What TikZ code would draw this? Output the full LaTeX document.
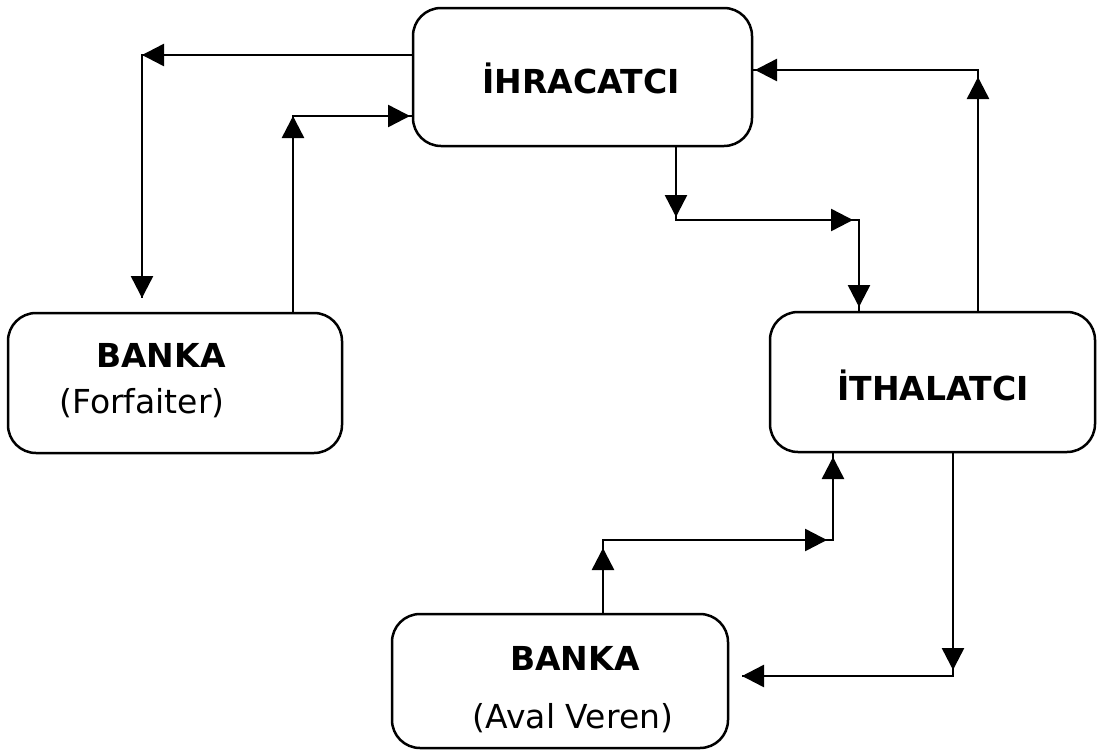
\documentclass[tikz,border=0pt]{standalone}
\usepackage{fontspec}
\setmainfont{DejaVu Sans}
\usetikzlibrary{arrows.meta}
\begin{document}
\begin{tikzpicture}[x=1pt,y=-1pt,
  party/.style={draw=black, line width=2.5pt, rounded corners=28pt, inner sep=0pt, outer sep=0pt},
  title/.style={anchor=base, inner sep=0pt, font=\fontsize{33}{36}\selectfont\bfseries},
  subtitle/.style={anchor=base, inner sep=0pt, font=\fontsize{33}{36}\selectfont},
  wire/.style={line width=2.5pt},
  flow/.style={line width=2.5pt, -{Triangle[length=22pt, width=22pt]}}]
\useasboundingbox (0,0) rectangle (1098,750);

% parties
\node[party, minimum width=339pt, minimum height=138pt] (ihr) at (582.5,77) {};
\node[party, minimum width=325pt, minimum height=140pt] (ith) at (932.5,382) {};
\node[party, minimum width=334pt, minimum height=140pt] (bf) at (175,383) {};
\node[party, minimum width=336pt, minimum height=134pt] (av) at (560,681) {};

% labels
\node[title] (ihrt) at (581,93) {İHRACATCI};
\node[title] (itht) at (933,400) {İTHALATCI};
\node[title] (bft) at (161,367) {BANKA};
\node[subtitle] (bfs) at (142,413) {(Forfaiter)};
\node[title] (avt) at (575,670) {BANKA};
\node[subtitle] (avs) at (573,728) {(Aval Veren)};

% bends of the connectors
\coordinate (c1) at (142,55);
\coordinate (c2) at (293,116);
\coordinate (c3a) at (676,220);
\coordinate (c3b) at (859,220);
\coordinate (c4) at (978,70);
\coordinate (c5a) at (603,540);
\coordinate (c5b) at (833,540);
\coordinate (c6) at (953,676);

% connector lines, corner to corner
\draw[wire] (ihr.west |- c1) -- (c1) -- ([yshift=15pt]c1 |- bf.north);
\draw[wire] (bf.north -| c2) -- (c2) -- (c2 -| ihr.west);
\draw[wire] (ihr.south -| c3a) -- (c3a) -- (c3b) -- (c3b |- ith.north);
\draw[wire] (ith.north -| c4) -- (c4) -- (c4 -| ihr.east);
\draw[wire] (av.north -| c5a) -- (c5a) -- (c5b) -- (c5b |- ith.south);
\draw[wire] (ith.south -| c6) -- (c6) -- ([xshift=14pt]c6 -| av.east);

% arrowheads: exporter -> forfaiter bank
\draw[flow] (ihr.west |- c1) -- (c1);
\draw[flow, shorten >=15pt] (c1) -- (c1 |- bf.north);
% forfaiter bank -> exporter
\draw[flow] (bf.north -| c2) -- (c2);
\draw[flow, shorten >=3pt] (c2) -- (c2 -| ihr.west);
% exporter -> importer
\draw[flow, shorten >=3pt] (ihr.south -| c3a) -- (c3a);
\draw[flow, shorten >=6pt] (c3a) -- (c3b);
\draw[flow, shorten >=5pt] (c3b) -- (c3b |- ith.north);
% importer -> exporter
\draw[flow, shorten >=7pt] (ith.north -| c4) -- (c4);
\draw[flow, shorten >=3pt] (c4) -- (c4 -| ihr.east);
% guarantor bank -> importer
\draw[flow, shorten >=8pt] (av.north -| c5a) -- (c5a);
\draw[flow, shorten >=6pt] (c5a) -- (c5b);
\draw[flow, shorten >=5pt] (c5b) -- (c5b |- ith.south);
% importer -> guarantor bank
\draw[flow, shorten >=6pt] (ith.south -| c6) -- (c6);
\draw[flow, shorten >=14pt] (c6) -- (c6 -| av.east);
\end{tikzpicture}
\end{document}
